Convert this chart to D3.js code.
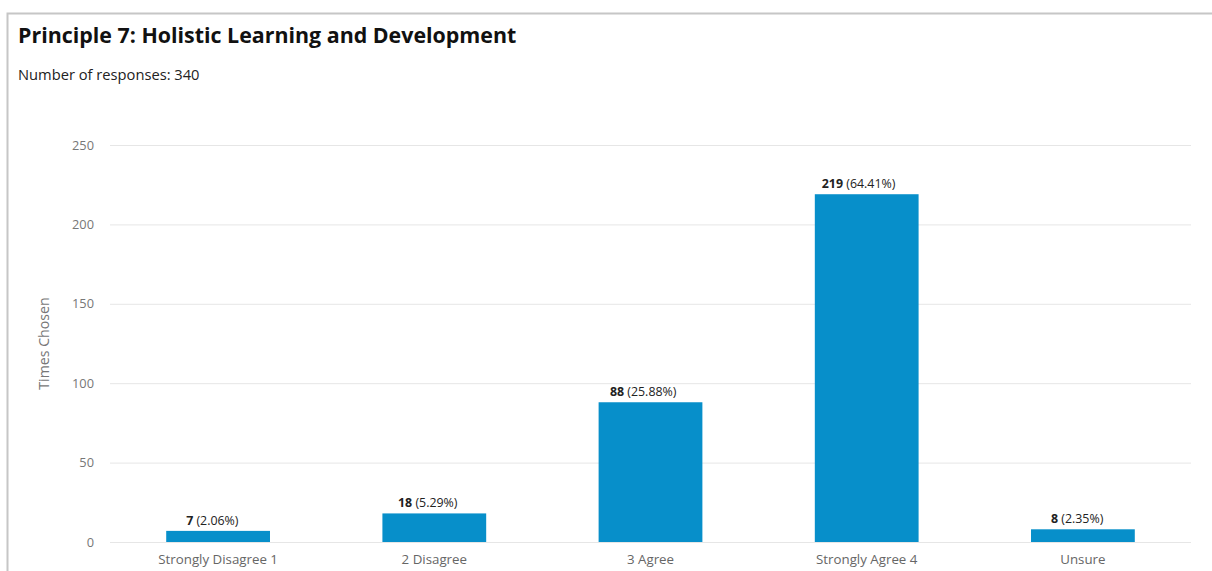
<!DOCTYPE html>
<html>
<head>
<meta charset="utf-8">
<script src="https://cdn.jsdelivr.net/npm/d3@7"></script>
<style>
html,body{margin:0;padding:0;background:#fff;}
svg{display:block;font-family:"Open Sans",sans-serif;}
</style>
</head>
<body>
<svg id="chart" width="1212" height="571"></svg>
<script>
const categories = ["Strongly Disagree 1", "2 Disagree", "3 Agree", "Strongly Agree 4", "Unsure"];
const counts = [7, 18, 88, 219, 8];
const percents = ["2.06%", "5.29%", "25.88%", "64.41%", "2.35%"];
const yTicks = [0, 50, 100, 150, 200, 250];
const title = "Principle 7: Holistic Learning and Development";
const subtitle = "Number of responses: 340";
const yTitle = "Times Chosen";

const svg = d3.select("#chart");
const W = 1212, H = 571;
const m = {left: 110, right: 21, top: 145, bottom: 29};

// frame
svg.append("path")
  .attr("d", `M7.5,${H} L7.5,13.5 L${W},13.5`)
  .attr("fill", "none").attr("stroke", "#c6c6c6").attr("stroke-width", 2);

svg.append("text").attr("x", 18).attr("y", 43)
  .attr("font-size", 21.4).attr("font-weight", 700).attr("fill", "#111")
  .text(title);
svg.append("text").attr("x", 18).attr("y", 80)
  .attr("font-size", 14.7).attr("fill", "#222")
  .text(subtitle);

const x = d3.scaleBand().domain(categories).range([m.left, W - m.right]).paddingInner(0.52).paddingOuter(0.26);
const y = d3.scaleLinear().domain([0, 250]).range([H - m.bottom, m.top]);

// grid
const yAxis = svg.append("g").attr("transform", `translate(${m.left},0)`)
  .call(d3.axisLeft(y).tickValues(yTicks).tickSize(-(W - m.right - m.left)).tickPadding(16));
yAxis.select(".domain").remove();
yAxis.selectAll(".tick line").attr("stroke", "#e6e6e6").attr("stroke-width", 1);
yAxis.selectAll(".tick text").attr("fill", "#777").attr("font-size", 12.8).attr("font-family", "Open Sans, sans-serif");

// bars
svg.append("g").selectAll("rect").data(categories).join("rect")
  .attr("x", d => x(d))
  .attr("width", x.bandwidth())
  .attr("y", (d, i) => y(counts[i]))
  .attr("height", (d, i) => y(0) - y(counts[i]))
  .attr("fill", "#078fca");

// value labels (slightly left of bar centre, as in the original)
const lab = svg.append("g").selectAll("text").data(categories).join("text")
  .attr("y", (d, i) => y(counts[i]) - 6)
  .attr("text-anchor", "start")
  .attr("font-size", 12.4).attr("fill", "#222");
lab.append("tspan").attr("font-weight", 700).text((d, i) => counts[i]);
lab.append("tspan").text((d, i) => " (" + percents[i] + ")");
lab.each(function(d) {
  const len = this.getComputedTextLength();
  d3.select(this).attr("x", x(d) + x.bandwidth() / 2 - 0.61 * len);
});

// x axis labels
const xAxis = svg.append("g").attr("transform", `translate(0,${H - m.bottom})`)
  .call(d3.axisBottom(x).tickSize(0).tickPadding(13));
xAxis.select(".domain").remove();
xAxis.selectAll(".tick text").attr("fill", "#666").attr("font-size", 13.3).attr("font-family", "Open Sans, sans-serif");

// y title
svg.append("text")
  .attr("transform", `translate(49,${(y(0) + y(250)) / 2}) rotate(-90)`)
  .attr("text-anchor", "middle")
  .attr("font-size", 14.2).attr("fill", "#777")
  .text(yTitle);
</script>
</body>
</html>
